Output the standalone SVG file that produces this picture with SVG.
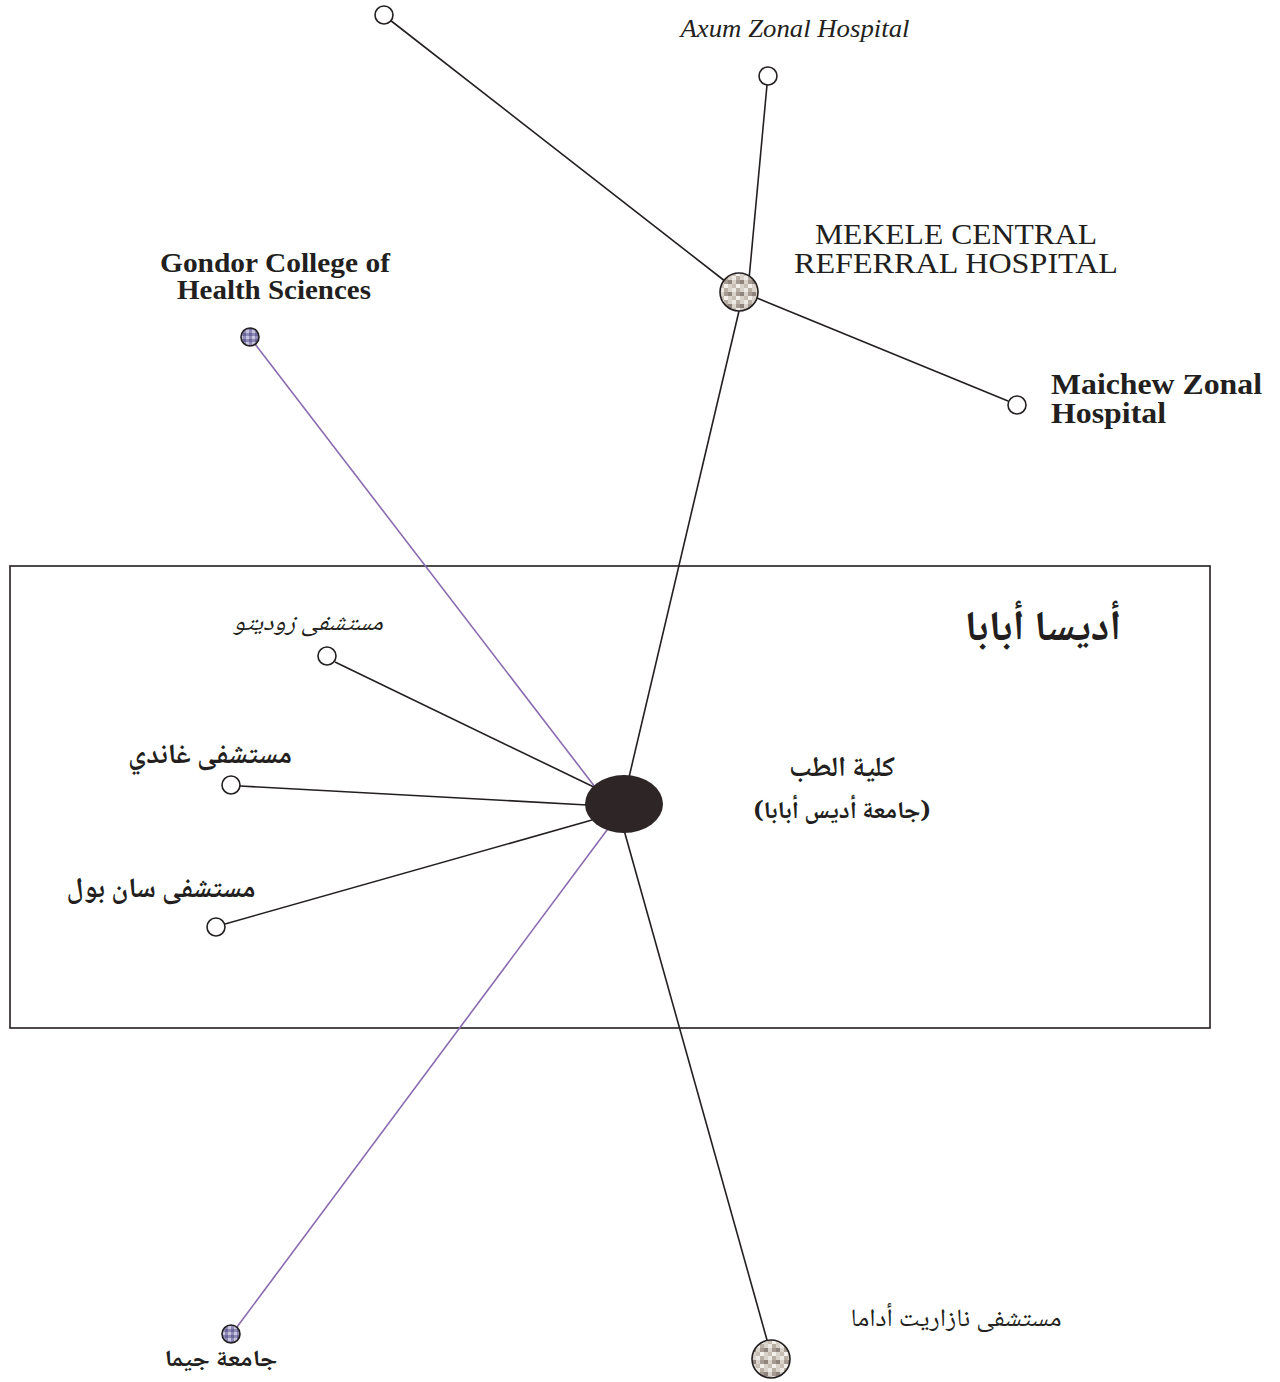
<svg xmlns="http://www.w3.org/2000/svg" width="1280" height="1382" viewBox="0 0 1280 1382">
<style>
.ln{stroke:#231f20;stroke-width:1.6;fill:none}
.pl{stroke:#8a6bb0;stroke-width:1.6;fill:none}
.oc{fill:#fff;stroke:#231f20;stroke-width:1.6}
.tx{fill:#231f20}
.en{font-family:"Liberation Serif","Times New Roman",serif}
.ar{font-family:"Noto Naskh Arabic","DejaVu Sans",sans-serif}
</style>
<defs>
<pattern id="beige" width="12" height="12" patternUnits="userSpaceOnUse">
<rect width="12" height="12" fill="#d9d2ca"/>
<rect x="0" y="0" width="4" height="4" fill="#ece8e3"/>
<rect x="4" y="0" width="4" height="4" fill="#b9afa5"/>
<rect x="8" y="4" width="4" height="4" fill="#8f857c"/>
<rect x="0" y="8" width="4" height="4" fill="#c7bfb6"/>
<rect x="4" y="8" width="4" height="4" fill="#f3f0ec"/>
<rect x="4" y="4" width="4" height="4" fill="#a59b92"/>
</pattern>
<pattern id="purp" width="6" height="6" patternUnits="userSpaceOnUse">
<rect width="6" height="6" fill="#8f8bb5"/>
<rect x="0" y="0" width="3" height="3" fill="#c6c3de"/>
<rect x="3" y="3" width="3" height="3" fill="#6b679a"/>
</pattern>
</defs>
<rect id="region" x="10" y="566" width="1200" height="462" fill="none" stroke="#231f20" stroke-width="1.6"/>
<g id="connectors">
<line class="ln" x1="390" y1="20" x2="730" y2="285"/>
<line class="ln" x1="767" y1="85" x2="748" y2="290"/>
<line class="ln" x1="757" y1="298" x2="1008" y2="401"/>
<line class="ln" x1="739" y1="311" x2="626" y2="790"/>
<line class="pl" x1="255" y1="344" x2="605" y2="800"/>
<line class="ln" x1="335" y1="662" x2="600" y2="790"/>
<line class="ln" x1="240" y1="786" x2="587" y2="805"/>
<line class="ln" x1="225" y1="924" x2="592" y2="820"/>
<line class="pl" x1="237" y1="1327" x2="610" y2="826"/>
<line class="ln" x1="624" y1="830" x2="767" y2="1340"/>
</g>
<g id="n-top"><circle class="oc" cx="384" cy="15" r="9"/></g>
<g id="n-axum"><circle class="oc" cx="768" cy="76" r="9"/>
<text class="en tx" x="795" y="37" font-size="25" font-style="italic" text-anchor="middle" textLength="229" lengthAdjust="spacingAndGlyphs">Axum Zonal Hospital</text></g>
<g id="n-mekele"><circle cx="739" cy="292" r="19" fill="url(#beige)" stroke="#231f20" stroke-width="1.6"/>
<text class="en tx" x="956" y="244" font-size="29" text-anchor="middle" textLength="282" lengthAdjust="spacingAndGlyphs">MEKELE CENTRAL</text>
<text class="en tx" x="956" y="273" font-size="29" text-anchor="middle" textLength="324" lengthAdjust="spacingAndGlyphs">REFERRAL HOSPITAL</text></g>
<g id="n-maichew"><circle class="oc" cx="1017" cy="405" r="9"/>
<text class="en tx" x="1051" y="394" font-size="29" font-weight="bold" textLength="211" lengthAdjust="spacingAndGlyphs">Maichew Zonal</text>
<text class="en tx" x="1051" y="423" font-size="29" font-weight="bold" textLength="115" lengthAdjust="spacingAndGlyphs">Hospital</text></g>
<g id="n-gondor"><circle cx="250" cy="337" r="9" fill="url(#purp)" stroke="#231f20" stroke-width="1.6"/>
<text class="en tx" x="275" y="272" font-size="27" font-weight="bold" text-anchor="middle" textLength="230" lengthAdjust="spacingAndGlyphs">Gondor College of</text>
<text class="en tx" x="274" y="299" font-size="27" font-weight="bold" text-anchor="middle" textLength="194" lengthAdjust="spacingAndGlyphs">Health Sciences</text></g>
<g id="n-addis-label"><text class="ar tx" x="1043" y="640" font-size="42" font-weight="bold" text-anchor="middle" textLength="157" lengthAdjust="spacingAndGlyphs">أديسا أبابا</text></g>
<g id="n-zewditu"><circle class="oc" cx="327" cy="656" r="9"/>
<text class="ar tx" x="308" y="630" font-size="24" font-style="italic" text-anchor="middle" textLength="150" lengthAdjust="spacingAndGlyphs">مستشفى زوديتو</text></g>
<g id="n-gandhi"><circle class="oc" cx="231" cy="785" r="9"/>
<text class="ar tx" x="210" y="763" font-size="28" font-weight="bold" text-anchor="middle" textLength="164" lengthAdjust="spacingAndGlyphs">مستشفى غاندي</text></g>
<g id="n-stpaul"><circle class="oc" cx="216" cy="927" r="9"/>
<text class="ar tx" x="161" y="897" font-size="28" font-weight="bold" text-anchor="middle" textLength="189" lengthAdjust="spacingAndGlyphs">مستشفى سان بول</text></g>
<g id="n-hub"><ellipse cx="624" cy="804" rx="39" ry="29" fill="#2d2526"/>
<text class="ar tx" x="842" y="776" font-size="28" font-weight="bold" text-anchor="middle" textLength="106" lengthAdjust="spacingAndGlyphs">كلية الطب</text>
<text class="ar tx" x="842" y="818" font-size="24" font-weight="bold" text-anchor="middle" textLength="177" lengthAdjust="spacingAndGlyphs">(جامعة أديس أبابا)</text></g>
<g id="n-jimma"><circle cx="231" cy="1334" r="9" fill="url(#purp)" stroke="#231f20" stroke-width="1.6"/>
<text class="ar tx" x="221" y="1366" font-size="23" font-weight="bold" text-anchor="middle" textLength="113" lengthAdjust="spacingAndGlyphs">جامعة جيما</text></g>
<g id="n-nazareth"><circle cx="771" cy="1359" r="19" fill="url(#beige)" stroke="#231f20" stroke-width="1.6"/>
<text class="ar tx" x="956" y="1326" font-size="25" text-anchor="middle" textLength="211" lengthAdjust="spacingAndGlyphs">مستشفى نازاريت أداما</text></g>
</svg>
